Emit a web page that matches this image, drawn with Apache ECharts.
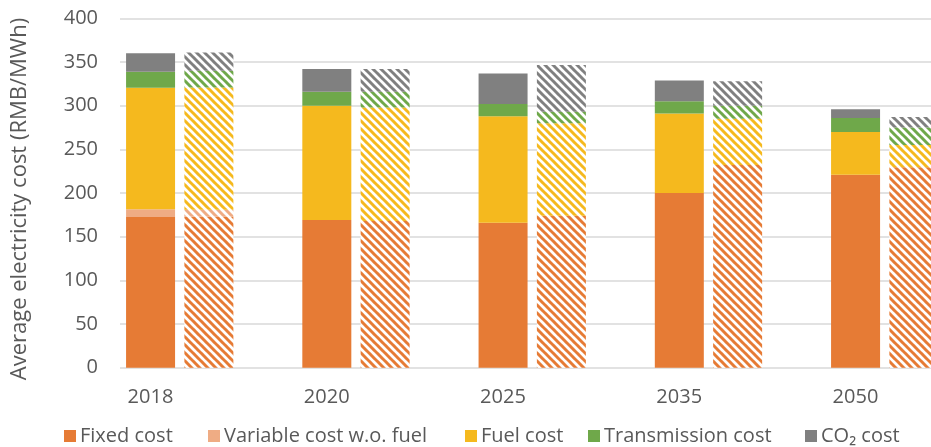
<!DOCTYPE html>
<html>
<head>
<meta charset="utf-8">
<script src="https://cdn.jsdelivr.net/npm/echarts@6/dist/echarts.min.js"></script>
<style>html,body{margin:0;padding:0;background:#fff}#c{width:931px;height:447px}</style>
</head>
<body>
<div id="c"></div>
<script>
const categories = ['2018', '2020', '2025', '2035', '2050'];
const seriesNames = ['Fixed cost', 'Variable cost w.o. fuel', 'Fuel cost', 'Transmission cost', 'CO₂ cost'];
const yTicks = [0, 50, 100, 150, 200, 250, 300, 350, 400];

// solid bars
const fixedA = [172.5, 169, 166, 200, 221];
const variableA = [9, 0, 0, 0, 0];
const fuelA = [139, 131, 122, 91, 49];
const transA = [18.5, 16, 14, 14, 16];
const co2A = [21, 26, 35, 24, 10];

// hatched bars
const fixedB = [173, 168, 174, 232, 229.5];
const variableB = [8, 0, 0, 0, 0];
const fuelB = [140, 130, 106, 53, 25.5];
const transB = [19, 18, 13, 15, 20];
const co2B = [21, 26, 53.5, 28, 12];

const colors = ['#E67B35', '#EFAC84', '#F5B91E', '#6FA84A', '#808080'];

function hatch(color) {
  const s = 8;
  const cv = document.createElement('canvas');
  cv.width = s; cv.height = s;
  const ctx = cv.getContext('2d');
  ctx.fillStyle = '#ffffff';
  ctx.fillRect(0, 0, s, s);
  ctx.strokeStyle = color;
  ctx.lineWidth = 3;
  for (let k = -1; k <= 1; k++) {
    ctx.beginPath();
    ctx.moveTo(k * s - 1, -1);
    ctx.lineTo(k * s + s + 1, s + 1);
    ctx.stroke();
  }
  return { image: cv, repeat: 'repeat' };
}

const dataA = [fixedA, variableA, fuelA, transA, co2A];
const dataB = [fixedB, variableB, fuelB, transB, co2B];

const series = [];
seriesNames.forEach((n, i) => {
  series.push({
    name: n, type: 'bar', stack: 'A', xAxisIndex: 0, yAxisIndex: 0,
    barWidth: 49, barGap: '19%',
    itemStyle: { color: colors[i] },
    data: dataA[i]
  });
});
seriesNames.forEach((n, i) => {
  series.push({
    name: n, type: 'bar', stack: 'B', xAxisIndex: 0, yAxisIndex: 0,
    barWidth: 49, barGap: '19%',
    itemStyle: { color: hatch(colors[i]) },
    data: dataB[i]
  });
});

const FONT = 'Open Sans';
const legendLefts = [64, 208, 465, 588, 805];
const legends = seriesNames.map((n, i) => ({
  data: [n], left: legendLefts[i], top: 426, itemWidth: 12, itemHeight: 12,
  icon: 'rect', padding: 0,
  textStyle: { color: '#595959', fontFamily: FONT, fontSize: 20, padding: [0, 0, 0, -1] }
}));

const chart = echarts.init(document.getElementById('c'), null, { renderer: 'canvas' });
chart.setOption({
  animation: false,
  color: colors,
  grid: [
    { left: 91.6, width: 881.25, top: 18.4, height: 349.3, containLabel: false, outerBoundsMode: 'none' },
    { left: 120, width: 811, top: 18.4, height: 349.3, containLabel: false, outerBoundsMode: 'none' }
  ],
  xAxis: [
    {
      type: 'category', gridIndex: 0, data: categories,
      axisLine: { show: false }, axisTick: { show: false },
      axisLabel: {
        interval: 0, margin: 20, color: '#595959', fontFamily: FONT, fontSize: 20,
        formatter: v => '{a|' + v + '}',
        rich: { a: { padding: [0, 58.5, 0, 0], color: '#595959', fontFamily: FONT, fontSize: 20 } }
      }
    },
    { type: 'value', gridIndex: 1, show: false, min: 0, max: 1 }
  ],
  yAxis: [
    { type: 'value', gridIndex: 0, min: 0, max: 400, interval: 50, show: false },
    {
      type: 'value', gridIndex: 1, min: 0, max: 400, interval: 50,
      axisLine: { show: false }, axisTick: { show: false },
      splitLine: { show: true, lineStyle: { color: '#D9D9D9', width: 1.5 } },
      axisLabel: { margin: 22, color: '#595959', fontFamily: FONT, fontSize: 20,
        customValues: yTicks },
      name: 'Average electricity cost (RMB/MWh)', nameLocation: 'middle', nameGap: 89,
      nameTextStyle: { color: '#595959', fontFamily: FONT, fontSize: 22, padding: [0, 12, 0, 0] }
    }
  ],
  legend: legends,
  series: series
});
</script>
</body>
</html>
